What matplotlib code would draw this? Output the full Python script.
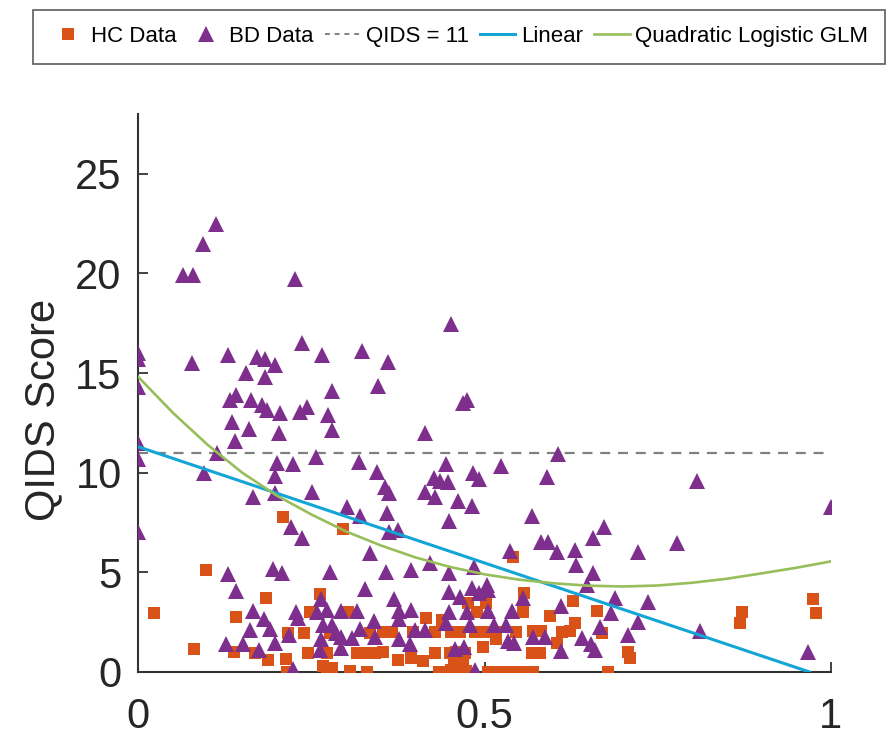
import matplotlib
matplotlib.use("Agg")
import matplotlib.pyplot as plt
from matplotlib.lines import Line2D

plt.rcParams['font.family'] = ['Liberation Sans', 'DejaVu Sans']

# BD group: (normalised measure, QIDS score)
bd_x = [0.112, 0.093, 0.065, 0.079, 0.226, 0.0, 0.0, 0.077, 0.130, 0.236, 0.265, 0.323, 0.171, 0.183,
        0.197, 0.155, 0.183, 0.0, 0.279, 0.141, 0.132,
        0.163, 0.178, 0.185, 0.204, 0.233, 0.243, 0.274, 0.135, 0.159, 0.203, 0.279, 0.139, 0.0, 0.0,
        0.114, 0.200, 0.223, 0.257, 0.319, 0.095, 0.197, 0.165, 0.197, 0.250, 0.301, 0.320, 0.0, 0.221,
        0.236, 0.335, 0.130, 0.194, 0.208, 0.276, 0.141, 0.327, 0.263, 0.166, 0.228, 0.231, 0.258, 0.273,
        0.292, 0.315, 0.181, 0.190, 0.161, 0.218, 0.266, 0.280, 0.286, 0.292, 0.308, 0.320, 0.263, 0.126,
        0.151, 0.197, 0.174, 0.262, 0.292, 0.223,
        0.452, 0.361, 0.346, 0.469, 0.475, 0.414, 0.606, 0.344, 0.444, 0.524, 0.356, 0.362, 0.427, 0.435,
        0.447, 0.483, 0.492, 0.414, 0.428, 0.462, 0.481, 0.590, 0.359, 0.449, 0.569, 0.362, 0.375, 0.582,
        0.592, 0.656, 0.605, 0.630, 0.537, 0.632, 0.421, 0.484, 0.357, 0.394, 0.449, 0.656, 0.648, 0.449,
        0.481, 0.503, 0.505, 0.369, 0.465, 0.492, 0.556, 0.610, 0.377, 0.393, 0.449, 0.474, 0.505, 0.539,
        0.340, 0.377, 0.414, 0.444, 0.479, 0.513, 0.531, 0.399, 0.570, 0.587, 0.641, 0.654, 0.342, 0.377,
        0.392, 0.534, 0.542, 0.457, 0.470, 0.610, 0.486,
        0.806, 1.0, 0.672, 0.778, 0.722, 0.688, 0.736, 0.683, 0.722, 0.666, 0.707, 0.811, 0.659, 0.967]
bd_y = [22.5, 21.5, 19.9, 19.9, 19.7, 16.0, 15.7, 15.5, 15.9, 16.5, 15.9, 16.1, 15.8, 15.7,
        15.4, 15.0, 14.8, 14.3, 14.1, 13.9, 13.65,
        13.65, 13.4, 13.15, 13.0, 13.07, 13.3, 12.9, 12.57, 12.2, 12.0, 12.15, 11.6, 11.5, 10.7,
        11.0, 10.5, 10.44, 10.8, 10.56, 9.97, 9.84, 8.77, 8.97, 9.05, 8.27, 7.83, 7.04, 7.26,
        6.74, 5.97, 4.92, 5.16, 4.99, 5.04, 4.08, 4.15, 3.65, 3.08, 3.03, 2.7, 3.03, 3.11,
        3.08, 3.08, 2.65, 2.14, 2.11, 1.86, 2.36, 2.36, 1.97, 1.74, 1.69, 2.14, 1.64, 1.41,
        1.41, 1.44, 1.1, 1.1, 1.19, 0.13,
        17.47, 15.58, 14.36, 13.49, 13.65, 12.0, 10.94, 10.06, 10.44, 10.34, 9.27, 8.97, 9.72, 9.6,
        9.55, 10.0, 9.67, 9.05, 8.77, 8.6, 8.33, 9.77, 8.0, 7.6, 7.83, 7.04, 7.13, 6.54,
        6.54, 6.71, 6.04, 6.12, 6.09, 5.37, 5.49, 5.29, 5.04, 5.12, 4.99, 4.99, 4.37, 4.03,
        4.2, 4.37, 4.12, 3.65, 3.75, 3.95, 3.7, 3.31, 3.08, 3.11, 3.03, 3.03, 3.08, 3.08,
        2.58, 2.65, 2.11, 2.44, 2.36, 2.36, 2.36, 2.11, 1.77, 1.77, 1.69, 1.41, 1.77, 1.64,
        1.41, 1.57, 1.44, 1.14, 1.27, 1.07, 0.1,
        9.6, 8.3, 7.26, 6.49, 6.01, 3.7, 3.5, 2.98, 2.53, 2.24, 1.86, 2.07, 1.1, 1.02]

# HC group
hc_x = [0.209, 0.296, 0.098, 0.022, 0.184, 0.141, 0.262, 0.248, 0.080, 0.138, 0.168, 0.187, 0.213,
        0.216, 0.239, 0.245, 0.277, 0.273, 0.214, 0.266, 0.272, 0.279, 0.306, 0.330, 0.315, 0.325,
        0.333, 0.302, 0.334,
        0.541, 0.557, 0.627, 0.662, 0.595, 0.555, 0.415, 0.438, 0.476, 0.489, 0.502, 0.353, 0.366,
        0.397, 0.428, 0.452, 0.464, 0.486, 0.500, 0.517, 0.545, 0.570, 0.582, 0.611, 0.623, 0.630,
        0.342, 0.375, 0.393, 0.411, 0.428, 0.450, 0.459, 0.471, 0.497, 0.516, 0.569, 0.580, 0.604,
        0.434, 0.452, 0.459, 0.464, 0.473, 0.455, 0.469, 0.505, 0.520, 0.532, 0.546, 0.558, 0.570,
        0.353,
        0.974, 0.979, 0.872, 0.868, 0.670, 0.707, 0.678, 0.710]
hc_y = [7.77, 7.16, 5.12, 2.95, 3.7, 2.75, 3.92, 3.03, 1.14, 1.02, 0.94, 0.6, 0.64,
        1.97, 1.97, 0.94, 1.97, 0.94, 0.02, 0.3, 0.02, 0.19, 0.07, 0.02, 0.94, 0.94,
        0.94, 3.03, 1.97,
        5.79, 3.95, 3.58, 3.08, 2.81, 3.03, 2.7, 2.61, 3.45, 3.03, 3.45, 2.02, 2.02,
        2.02, 2.02, 2.02, 2.02, 2.02, 2.02, 2.02, 2.02, 2.07, 2.07, 2.02, 2.07, 2.44,
        0.94, 0.6, 0.69, 0.57, 0.94, 0.94, 1.02, 0.94, 1.24, 1.64, 0.94, 0.94, 1.44,
        0.02, 0.1, 0.27, 0.0, 0.07, 0.6, 0.52, 0.02, 0.02, 0.02, 0.02, 0.02, 0.02,
        1.02,
        3.65, 2.98, 3.03, 2.48, 1.94, 1.02, 0.02, 0.71]

# fitted curves
linear_x = [0.0, 0.969]
linear_y = [11.3, 0.0]
glm_x = [0.0, 0.05, 0.1, 0.15, 0.2, 0.25, 0.3, 0.35, 0.4, 0.45, 0.5,
         0.55, 0.6, 0.65, 0.7, 0.75, 0.8, 0.85, 0.9, 0.95, 1.0]
glm_y = [14.8, 13.0, 11.4, 10.0, 8.85, 7.9, 7.05, 6.35, 5.75, 5.27, 4.9,
         4.63, 4.45, 4.33, 4.29, 4.34, 4.48, 4.68, 4.95, 5.23, 5.55]
cutoff = 11

orange = '#D95319'
purple = '#7E2F8E'
blue = '#14A5D7'
green = '#97BE5A'

fig = plt.figure(figsize=(8.93, 7.36), dpi=100)
ax = fig.add_axes([0.155, 0.087, 0.7755, 0.758])

ax.plot(hc_x, hc_y, 's', color=orange, markersize=8, markeredgewidth=0, zorder=3)
ax.plot(bd_x, bd_y, '^', color=purple, markersize=12, markeredgewidth=0, zorder=3)
ax.axhline(cutoff, color='#808080', linestyle=(0, (4.5, 3.5)), linewidth=1.6, zorder=2)
ax.plot(linear_x, linear_y, color=blue, linewidth=2.2, zorder=4)
ax.plot(glm_x, glm_y, color=green, linewidth=1.9, zorder=4)

ax.set_xlim(0, 1)
ax.set_ylim(0, 28)
ax.set_xticks([0, 0.5, 1])
ax.set_xticklabels(['0', '0.5', '1'])
ax.set_yticks([0, 5, 10, 15, 20, 25])
for side in ['top', 'right']:
    ax.spines[side].set_visible(False)
for side in ['left', 'bottom']:
    ax.spines[side].set_color('#333333')
    ax.spines[side].set_linewidth(1.5)
ax.tick_params(direction='in', length=7, width=1.3, colors='#333333',
               labelsize=30, labelcolor='#262626')
ax.tick_params(axis='x', pad=18)
ax.tick_params(axis='y', pad=12)
ax.set_ylabel('QIDS Score', fontsize=30, color='#262626')
ax.yaxis.set_label_coords(-0.108, 0.47)

handles = [
    Line2D([], [], marker='s', linestyle='none', color=orange, markersize=8, markeredgewidth=0),
    Line2D([], [], marker='^', linestyle='none', color=purple, markersize=12, markeredgewidth=0),
    Line2D([], [], color='#808080', linestyle=(0, (2.5, 2.5)), linewidth=1.4),
    Line2D([], [], color=blue, linewidth=2.2),
    Line2D([], [], color=green, linewidth=1.9),
]
labels = ['HC Data', 'BD Data', 'QIDS = 11', 'Linear', 'Quadratic Logistic GLM']
leg = fig.legend(handles, labels, loc='upper center', bbox_to_anchor=(0.514, 0.987),
                 ncol=5, fontsize=16, frameon=True, fancybox=False, borderpad=0.75,
                 handlelength=1.6, handletextpad=0.25, columnspacing=0.5, borderaxespad=0)
leg.get_frame().set_edgecolor('#333333')
leg.get_frame().set_linewidth(1.2)

fig.savefig('out.png', dpi=100)
